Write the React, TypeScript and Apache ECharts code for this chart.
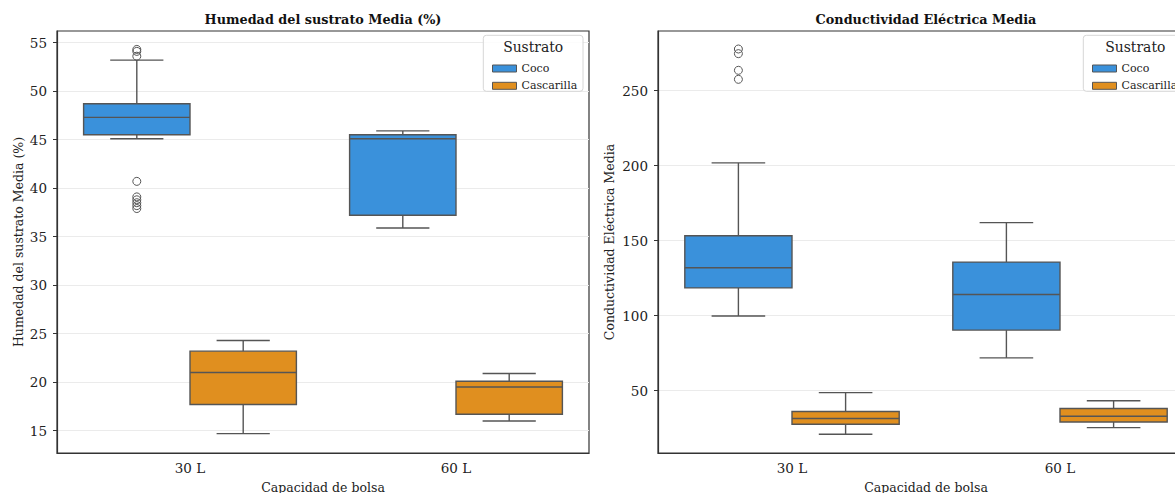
import React, { useEffect, useRef } from "react";
import * as echarts from "echarts";

const categories = ["30 L", "60 L"];
const substrates = ["Coco", "Cascarilla"];
const colors = ["#3a91db", "#e08f1f"];

// [min whisker, Q1, median, Q3, max whisker] per category
const humedadCoco = [
  [45.1, 45.5, 47.3, 48.7, 53.2],
  [35.9, 37.2, 45.1, 45.5, 45.9],
];
const humedadCascarilla = [
  [14.7, 17.7, 21.0, 23.2, 24.3],
  [16.0, 16.7, 19.5, 20.1, 20.9],
];
const humedadCocoOutliers30 = [54.3, 54.1, 53.6, 40.7, 39.1, 38.8, 38.5, 38.2, 37.9];

const ceCoco = [
  [99.8, 118.5, 131.9, 153.3, 201.8],
  [71.9, 90.4, 114.1, 135.7, 162.0],
];
const ceCascarilla = [
  [21.0, 27.7, 31.5, 36.2, 48.7],
  [25.4, 29.2, 33.0, 38.2, 43.3],
];
const ceCocoOutliers30 = [277.7, 274.6, 263.5, 257.5];

const humedadTicks = [15, 20, 25, 30, 35, 40, 45, 50, 55];
const ceTicks = [50, 100, 150, 200, 250];

const FONT = "DejaVu Serif";
const EDGE = "#555555";
const TEXT = "#222222";

function boxRender(offset: number, color: string) {
  return (params: any, api: any) => {
    const cat = api.value(0);
    const mn = api.value(1), q1 = api.value(2), md = api.value(3), q3 = api.value(4), mx = api.value(5);
    const band = api.size([1, 0])[0];
    const cx = api.coord([cat, md])[0] + offset * band;
    const w = band * 0.4;
    const y = (v: number) => api.coord([cat, v])[1];
    const ls = { stroke: EDGE, lineWidth: 1.4 };
    return {
      type: "group",
      children: [
        { type: "line", shape: { x1: cx, y1: y(mx), x2: cx, y2: y(q3) }, style: ls },
        { type: "line", shape: { x1: cx, y1: y(q1), x2: cx, y2: y(mn) }, style: ls },
        { type: "line", shape: { x1: cx - w / 4, y1: y(mx), x2: cx + w / 4, y2: y(mx) }, style: ls },
        { type: "line", shape: { x1: cx - w / 4, y1: y(mn), x2: cx + w / 4, y2: y(mn) }, style: ls },
        {
          type: "rect",
          shape: { x: cx - w / 2, y: y(q3), width: w, height: y(q1) - y(q3) },
          style: { fill: color, stroke: EDGE, lineWidth: 1.4 },
        },
        { type: "line", shape: { x1: cx - w / 2, y1: y(md), x2: cx + w / 2, y2: y(md) }, style: ls },
      ],
    };
  };
}

function outlierRender(offset: number) {
  return (params: any, api: any) => {
    const cat = api.value(0);
    const v = api.value(1);
    const band = api.size([1, 0])[0];
    const p = api.coord([cat, v]);
    return {
      type: "circle",
      shape: { cx: p[0] + offset * band, cy: p[1], r: 4 },
      style: { fill: "rgba(255,255,255,0)", stroke: EDGE, lineWidth: 1 },
    };
  };
}

function boxSeries(name: string, stats: number[][], idx: number, offset: number, color: string) {
  return {
    type: "custom",
    name,
    xAxisIndex: idx,
    yAxisIndex: idx,
    itemStyle: { color },
    encode: { x: 0, y: [1, 2, 3, 4, 5] },
    data: stats.map((s, i) => [i, ...s]),
    renderItem: boxRender(offset, color),
    z: 3,
  };
}

function outlierSeries(name: string, values: number[], cat: number, idx: number, offset: number, color: string) {
  return {
    type: "custom",
    name,
    xAxisIndex: idx,
    yAxisIndex: idx,
    itemStyle: { color },
    encode: { x: 0, y: 1 },
    data: values.map((v) => [cat, v]),
    renderItem: outlierRender(offset),
    z: 4,
  };
}

function makeX(idx: number) {
  return {
    type: "category",
    gridIndex: idx,
    data: categories,
    name: "Capacidad de bolsa",
    nameLocation: "middle",
    nameGap: 27.5,
    nameTextStyle: { fontFamily: FONT, fontSize: 12.5, color: TEXT },
    axisLine: { lineStyle: { color: "#333", width: 1.2 } },
    axisTick: { alignWithLabel: true, length: 4, lineStyle: { color: "#333" } },
    axisLabel: { fontFamily: FONT, fontSize: 13.5, color: TEXT, margin: 8 },
    splitLine: { show: false },
  };
}

function makeY(idx: number, name: string, min: number, max: number, split: number, ticks: number[], gap: number) {
  return {
    type: "value",
    gridIndex: idx,
    min,
    max,
    splitNumber: split,
    name,
    nameLocation: "middle",
    nameGap: gap,
    nameTextStyle: { fontFamily: FONT, fontSize: 12.5, color: TEXT },
    axisLine: { show: true, lineStyle: { color: "#333", width: 1.2 } },
    axisTick: { show: true, length: 4, lineStyle: { color: "#333" }, customValues: ticks },
    axisLabel: { fontFamily: FONT, fontSize: 13.5, color: TEXT, margin: 10, customValues: ticks },
    splitLine: { show: true, lineStyle: { color: "#ebebeb", width: 1 } },
  };
}

function legendFor(left: number) {
  return {
    left,
    top: 57.5,
    orient: "vertical",
    itemWidth: 24,
    itemHeight: 7,
    itemGap: 5.3,
    selectedMode: false,
    z: 10,
    textStyle: { fontFamily: FONT, fontSize: 11, color: TEXT, lineHeight: 12 },
    data: substrates.map((s, i) => ({
      name: s,
      icon: "rect",
      itemStyle: { color: colors[i], borderColor: EDGE, borderWidth: 1 },
    })),
  };
}

function legendBox(x: number, w: number) {
  return [
    {
      type: "rect",
      z: 9,
      shape: { x, y: 35.3, width: w, height: 56, r: 3 },
      style: { fill: "rgba(255,255,255,0.85)", stroke: "#d6d6d6", lineWidth: 1 },
    },
    {
      type: "text",
      z: 10,
      x: x + w / 2,
      y: 47,
      style: {
        text: "Sustrato",
        fontFamily: FONT,
        fontSize: 13.9,
        fill: TEXT,
        align: "center",
        verticalAlign: "middle",
      },
    },
  ];
}

export default function App() {
  const ref = useRef<HTMLDivElement>(null);
  useEffect(() => {
    if (!ref.current) return;
    const chart = echarts.init(ref.current, undefined, { renderer: "svg" });
    chart.setOption({
      animation: false,
      backgroundColor: "#ffffff",
      grid: [
        { left: 57, top: 31, width: 532, height: 422, outerBoundsMode: "none", containLabel: false, show: true, borderColor: "#333", borderWidth: 1.2, backgroundColor: "transparent" },
        { left: 658, top: 31, width: 536, height: 422, outerBoundsMode: "none", containLabel: false, show: true, borderColor: "#333", borderWidth: 1.2, backgroundColor: "transparent" },
      ],
      xAxis: [makeX(0), makeX(1)],
      yAxis: [
        makeY(0, "Humedad del sustrato Media (%)", 12.7, 56.2, 9, humedadTicks, 32.5),
        makeY(1, "Conductividad Eléctrica Media", 8.5, 289.7, 5, ceTicks, 42),
      ],
      legend: [legendFor(487), legendFor(1087)],
      graphic: [
        {
          type: "text",
          x: 323,
          y: 19.5,
          style: {
            text: "Humedad del sustrato Media (%)",
            fontFamily: FONT,
            fontSize: 12.8,
            fontWeight: "bold",
            fill: "#111",
            align: "center",
            verticalAlign: "middle",
          },
        },
        {
          type: "text",
          x: 926,
          y: 19.5,
          style: {
            text: "Conductividad Eléctrica Media",
            fontFamily: FONT,
            fontSize: 12.8,
            fontWeight: "bold",
            fill: "#111",
            align: "center",
            verticalAlign: "middle",
          },
        },
        ...legendBox(483.3, 99.7),
        ...legendBox(1083.3, 104),
      ],
      series: [
        boxSeries("Coco", humedadCoco, 0, -0.2, colors[0]),
        boxSeries("Cascarilla", humedadCascarilla, 0, 0.2, colors[1]),
        outlierSeries("Coco", humedadCocoOutliers30, 0, 0, -0.2, colors[0]),
        boxSeries("Coco", ceCoco, 1, -0.2, colors[0]),
        boxSeries("Cascarilla", ceCascarilla, 1, 0.2, colors[1]),
        outlierSeries("Coco", ceCocoOutliers30, 0, 1, -0.2, colors[0]),
      ],
    });
    return () => chart.dispose();
  }, []);
  return (
    <div
      ref={ref}
      style={{ position: "absolute", left: 0, top: 0, width: 1175, height: 493 }}
    />
  );
}
